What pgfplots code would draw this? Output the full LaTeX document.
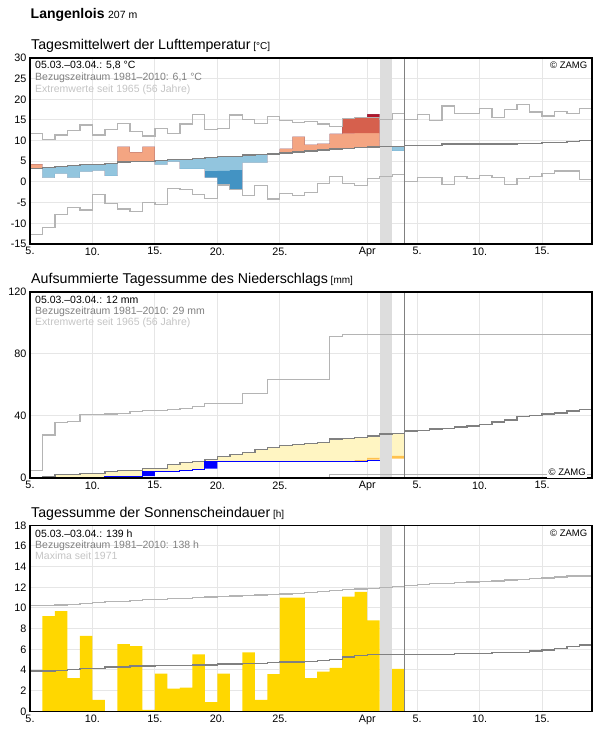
\documentclass[border=0pt]{standalone}
\usepackage{pgfplots}
\pgfplotsset{compat=1.18}
\usepackage{pgfplotstable}
\usepgfplotslibrary{fillbetween}
\usepackage{fontspec}
\setmainfont{Liberation Sans}

\definecolor{anoO}{HTML}{F4A582}
\definecolor{anoR}{HTML}{D6604D}
\definecolor{anoDR}{HTML}{B2182B}
\definecolor{anoLB}{HTML}{92C5DE}
\definecolor{anoMB}{HTML}{4393C3}
\definecolor{band}{HTML}{DDDDDD}
\definecolor{gridc}{HTML}{E6E6E6}
\definecolor{extr}{HTML}{B4B4B4}
\definecolor{clim}{HTML}{808080}
\definecolor{dry}{HTML}{FFF5C2}
\definecolor{wet}{HTML}{0000FF}
\definecolor{late}{HTML}{FFC24D}
\definecolor{sun}{HTML}{FFD700}
\definecolor{txtgray}{HTML}{808080}
\definecolor{txtlight}{HTML}{C4C4C4}

% ---------------- temperature: climatology and extremes (day 0 = 5 March)
\pgfplotstableread{
day mean tmax tmin
0 3.3 11.8 -12.7
1 3.55 10.3 -11.0
2 3.8 11.4 -7.9
3 4.0 12.5 -6.1
4 4.3 13.8 -6.8
5 4.3 11.4 -3.0
6 4.5 12.7 -5.2
7 4.85 14.2 -6.5
8 5.0 12.3 -7.2
9 5.0 11.1 -4.9
10 5.25 13.0 -5.4
11 5.5 11.8 -1.5
12 5.5 14.0 -1.9
13 5.65 16.4 -3.1
14 5.9 12.7 -3.95
15 6.1 13.0 -0.7
16 6.2 16.2 -1.9
17 6.5 15.2 -3.2
18 6.65 14.2 -0.9
19 6.8 15.9 -4.1
20 7.0 14.8 -2.7
21 7.3 14.4 -3.2
22 7.5 14.6 -2.5
23 7.7 14.0 -0.3
24 8.0 13.5 1.3
25 8.15 15.3 -0.3
26 8.3 15.6 -0.9
27 8.45 15.6 0.9
28 8.6 15.2 1.3
29 8.6 16.6 1.85
30 8.9 15.2 0.15
31 8.9 16.4 1.05
32 8.9 14.8 1.05
33 9.2 18.4 -0.55
34 9.2 16.6 1.4
35 9.2 16.6 0.9
36 9.2 17.8 1.6
37 9.2 15.6 1.1
38 9.2 17.6 -0.55
39 9.35 18.8 0.9
40 9.35 16.9 1.4
41 9.6 16.0 2.1
42 9.6 17.1 2.65
43 9.85 16.6 2.65
44 10.1 17.8 0.65
45 10.1 17.8 0.65
}\tclim

% observed daily means; obt/rbt = upper limits of the orange/red classes,
% lbb = lower limit of the light blue class (equal to val where the
% value stays inside the lighter class)
\pgfplotstableread{
day base val obt rbt lbb
0 3.3 4.35 4.35 4.35 4.35
1 3.55 1.05 1.05 1.05 1.05
2 3.8 2.0 2.0 2.0 2.0
3 4.0 1.05 1.05 1.05 1.05
4 4.3 2.5 2.5 2.5 2.5
5 4.3 2.75 2.75 2.75 2.75
6 4.5 1.5 1.5 1.5 1.5
7 4.85 8.5 8.5 8.5 8.5
8 5.0 7.25 7.25 7.25 7.25
9 5.0 8.5 8.5 8.5 8.5
10 5.25 4.2 4.2 4.2 4.2
11 5.5 4.95 4.95 4.95 4.95
12 5.5 3.15 3.15 3.15 3.15
13 5.65 3.15 3.15 3.15 3.15
14 5.9 1.05 1.05 1.05 2.65
15 6.1 -0.7 -0.7 -0.7 2.7
16 6.2 -1.9 -1.9 -1.9 2.9
17 6.5 4.7 4.7 4.7 4.7
18 6.65 4.7 4.7 4.7 4.7
19 6.8 6.8 6.8 6.8 6.8
20 7.0 8.0 8.0 8.0 8.0
21 7.3 10.9 10.9 10.9 10.9
22 7.5 9.0 9.0 9.0 9.0
23 7.7 9.2 9.2 9.2 9.2
24 8.0 11.65 11.5 11.65 11.65
25 8.15 15.3 11.7 15.3 15.3
26 8.3 15.6 11.85 15.6 15.6
27 8.45 16.45 11.85 15.7 16.45
28 8.6 8.6 8.6 8.6 8.6
29 8.6 7.5 7.5 7.5 7.5
30 8.6 7.5 7.5 7.5 7.5
}\tobs

% ---------------- precipitation (accumulated, mm)
\pgfplotstableread{
day mean pmax pmin
0 0.4 4.9 0
1 1.1 27.7 0
2 2.15 35.9 0
3 2.15 36.6 0
4 2.8 40.9 0
5 2.8 40.9 0
6 4.1 41.3 0
7 4.95 41.7 0
8 4.95 42.8 0
9 6.2 43.4 0
10 6.2 43.4 0
11 8.8 44.3 0
12 10.1 44.7 0
13 10.75 46.0 0
14 12.0 48.2 0
15 13.8 48.2 0
16 15.3 48.2 0.4
17 16.3 54.5 0.4
18 18.5 54.5 0.4
19 19.8 63.6 0.4
20 20.9 63.6 0.4
21 21.5 63.6 0.4
22 22.4 63.6 0.4
23 23.0 63.6 0.4
24 25.2 91.2 2.4
25 25.6 92.7 2.4
26 26.0 92.7 2.4
27 27.1 92.7 2.4
28 28.4 92.7 2.4
29 28.8 92.7 2.4
30 30.2 92.7 2.4
31 30.8 92.7 2.4
32 31.5 92.7 2.4
33 32.1 92.7 2.4
34 33.0 92.7 2.4
35 33.6 92.7 2.4
36 34.5 92.7 2.4
37 36.2 92.7 2.4
38 37.5 92.7 2.4
39 39.6 92.7 2.4
40 40.5 92.7 2.4
41 41.4 92.7 2.4
42 42.0 92.7 2.4
43 43.3 92.7 2.4
44 44.2 92.7 2.4
45 44.2 92.7 2.4
}\pclim

\pgfplotstableread{
day base act bxl ylo
0 0.4 0.0 0.0 0.0
1 1.1 0.4 0.4 0.4
2 2.15 0.4 0.4 0.4
3 2.15 0.4 0.4 0.4
4 2.8 0.4 0.4 0.4
5 2.8 0.4 0.4 0.4
6 4.1 1.1 1.1 1.1
7 4.95 1.1 1.1 1.1
8 4.95 1.1 1.1 1.1
9 6.2 4.4 1.2 4.4
10 6.2 4.4 4.4 4.4
11 8.8 4.4 4.4 4.4
12 10.1 4.9 4.9 4.9
13 10.75 5.5 5.5 5.5
14 12.0 10.4 6.0 10.4
15 13.8 10.6 10.6 10.6
16 15.3 10.6 10.6 10.6
17 16.3 10.6 10.6 10.6
18 18.5 10.6 10.6 10.6
19 19.8 10.6 10.6 10.6
20 20.9 10.6 10.6 10.6
21 21.5 10.6 10.6 10.6
22 22.4 10.6 10.6 10.6
23 23.0 10.6 10.6 10.6
24 25.2 10.6 10.6 10.6
25 25.6 10.6 10.6 10.6
26 26.0 10.6 10.6 11.6
27 27.1 11.3 11.3 13.0
28 28.4 11.3 11.3 13.0
29 28.8 11.3 11.3 14.2
30 30.2 11.3 11.3 14.2
}\pobs

\pgfplotstableread{
day lo hi
26 11.0 11.6
27 11.8 13.0
28 13.0 13.0
29 12.5 14.2
30 12.5 14.2
}\plate

% ---------------- sunshine duration (h)
\pgfplotstableread{
day mean smax
0 3.9 10.25
1 3.9 10.25
2 3.97 10.3
3 4.04 10.35
4 4.17 10.45
5 4.17 10.5
6 4.3 10.6
7 4.3 10.65
8 4.4 10.75
9 4.4 10.8
10 4.46 10.85
11 4.46 10.9
12 4.46 10.95
13 4.5 11.0
14 4.5 11.05
15 4.56 11.1
16 4.56 11.15
17 4.6 11.2
18 4.6 11.25
19 4.7 11.3
20 4.76 11.35
21 4.76 11.4
22 4.82 11.5
23 4.9 11.6
24 5.0 11.7
25 5.25 11.8
26 5.4 11.85
27 5.5 11.9
28 5.5 12.0
29 5.5 12.1
30 5.5 12.2
31 5.5 12.25
32 5.52 12.35
33 5.52 12.4
34 5.57 12.45
35 5.57 12.5
36 5.6 12.55
37 5.67 12.6
38 5.67 12.7
39 5.7 12.75
40 5.85 12.85
41 5.95 12.9
42 6.1 13.0
43 6.3 13.1
44 6.4 13.1
45 6.4 13.1
}\sclim

\pgfplotstableread{
day hours
0 0
1 9.2
2 9.7
3 3.2
4 7.3
5 1.1
6 0
7 6.5
8 6.3
9 0.13
10 3.65
11 2.2
12 2.3
13 5.5
14 0.9
15 3.65
16 0
17 5.7
18 1.1
19 3.6
20 11.0
21 11.0
22 3.2
23 3.85
24 4.2
25 11.1
26 11.55
27 8.8
28 0
29 4.1
30 4.1
}\sobs

\pgfplotsset{
  panel/.style={
    scale only axis, width=562pt, height=186pt,
    anchor=south west,
    xmin=0, xmax=45,
    xtick={0,5,10,15,20,27,31,36,41},
    xticklabels={5.,10.,15.,20.,25.,Apr,5.,10.,15.},
    major tick length=0pt,
    grid=major,
    major grid style={draw=gridc, line width=1pt},
    axis line style={line width=1.4pt},
    tick label style={font=\fontsize{10.8}{13}\selectfont},
    /pgf/number format/assume math mode=true,
  },
  extline/.style={const plot, color=extr, line width=1.3pt, mark=none},
  climline/.style={const plot, color=clim, line width=1.4pt, mark=none},
  hidden/.style={const plot, draw=none, mark=none},
}

\newcommand\ttl{\fontsize{14.2}{16}\selectfont}
\newcommand\unitsz{\fontsize{10}{12}\selectfont}
\newcommand\info{\fontsize{10.5}{12}\selectfont}
\newcommand\zamg{\fontsize{9.5}{11}\selectfont}

\begin{document}
\begin{tikzpicture}
\path (0pt,0pt) rectangle (596pt,729pt);

% ================= air temperature
\begin{axis}[panel, at={(30pt,485pt)},
  ymin=-15, ymax=30, ytick={-15,-10,...,30}]
  \addplot[hidden, name path=tb] table[x=day, y=base] {\tobs};
  \addplot[hidden, name path=oh] table[x=day,
     y expr={max(\thisrow{base},min(\thisrow{val},\thisrow{obt}))}] {\tobs};
  \addplot[hidden, name path=rl] table[x=day, y=obt] {\tobs};
  \addplot[hidden, name path=rh] table[x=day,
     y expr={max(\thisrow{obt},min(\thisrow{val},\thisrow{rbt}))}] {\tobs};
  \addplot[hidden, name path=dl] table[x=day, y=rbt] {\tobs};
  \addplot[hidden, name path=dh] table[x=day,
     y expr={max(\thisrow{rbt},\thisrow{val})}] {\tobs};
  \addplot[hidden, name path=bl] table[x=day,
     y expr={min(\thisrow{base},max(\thisrow{val},\thisrow{lbb}))}] {\tobs};
  \addplot[hidden, name path=mh] table[x=day, y=lbb] {\tobs};
  \addplot[hidden, name path=ml] table[x=day,
     y expr={min(\thisrow{lbb},\thisrow{val})}] {\tobs};

  \addplot[fill=anoO, draw=none] fill between[of=tb and oh];
  \addplot[fill=anoR, draw=none] fill between[of=rl and rh];
  \addplot[fill=anoDR, draw=none] fill between[of=dl and dh];
  \addplot[fill=anoLB, draw=none] fill between[of=bl and tb];
  \addplot[fill=anoMB, draw=none] fill between[of=ml and mh];

  \addplot[fill=band, draw=none] coordinates {(28,-15) (29,-15) (29,30) (28,30)} --cycle;
  \addplot[extline] table[x=day, y=tmax] {\tclim};
  \addplot[extline] table[x=day, y=tmin] {\tclim};
  \addplot[climline] table[x=day, y=mean] {\tclim};
  \addplot[color=clim, line width=1.2pt] coordinates {(30,-15) (30,30)};
\end{axis}
\draw[line width=1.4pt] (30pt,485pt) rectangle (592pt,671pt);

% ================= precipitation
\begin{axis}[panel, at={(30pt,251pt)},
  ymin=0, ymax=120, ytick={0,40,80,120}]
  \addplot[hidden, name path=pb] table[x=day, y=base] {\pobs};
  \addplot[hidden, name path=py] table[x=day, y=ylo] {\pobs};
  \addplot[fill=dry, draw=none] fill between[of=py and pb];
  \addplot[hidden, name path=ba, restrict x to domain=0:28] table[x=day, y=act] {\pobs};
  \addplot[hidden, name path=bx, restrict x to domain=0:28] table[x=day, y=bxl] {\pobs};
  \addplot[fill=wet, draw=none] fill between[of=bx and ba];
  \addplot[hidden, name path=ll] table[x=day, y=lo] {\plate};
  \addplot[hidden, name path=lh] table[x=day, y=hi] {\plate};
  \addplot[fill=late, draw=none] fill between[of=ll and lh];

  \addplot[fill=band, draw=none] coordinates {(28,0) (29,0) (29,120) (28,120)} --cycle;
  \addplot[extline] table[x=day, y=pmax] {\pclim};
  \addplot[extline] table[x=day, y=pmin] {\pclim};
  \addplot[climline] table[x=day, y=mean] {\pclim};
  \addplot[const plot, color=wet, line width=1.2pt, mark=none,
     restrict x to domain=0:28] table[x=day, y=act] {\pobs};
  \addplot[color=clim, line width=1.2pt] coordinates {(30,0) (30,120)};
\end{axis}
\draw[line width=1.4pt] (30pt,251pt) rectangle (592pt,437pt);

% ================= sunshine duration
\begin{axis}[panel, at={(30pt,17.7pt)},
  ymin=0, ymax=18, ytick={0,2,...,18}]
  \addplot[const plot, fill=sun, draw=none, mark=none] table[x=day, y=hours] {\sobs} \closedcycle;
  \addplot[fill=band, draw=none] coordinates {(28,0) (29,0) (29,18) (28,18)} --cycle;
  \addplot[extline] table[x=day, y=smax] {\sclim};
  \addplot[climline] table[x=day, y=mean] {\sclim};
  \addplot[color=clim, line width=1.2pt] coordinates {(30,0) (30,18)};
\end{axis}
\draw[line width=1.4pt] (30pt,17.7pt) rectangle (592pt,203.7pt);

% ================= titles and notes
\node[anchor=base west, inner sep=0pt] at (30.5pt,710.7pt)
  {{\bfseries\fontsize{14}{16}\selectfont Langenlois}\hspace{3.5pt}{\fontsize{10.5}{12}\selectfont 207 m}};

\node[anchor=base west, inner sep=0pt] at (31pt,679.7pt)
  {{\ttl Tagesmittelwert der Lufttemperatur} {\unitsz[°C]}};
\node[anchor=base west, inner sep=0pt, font=\info] at (35pt,660.7pt) {05.03.–03.04.: 5,8 °C};
\node[anchor=base west, inner sep=0pt, font=\info, text=txtgray] at (35pt,648.2pt) {Bezugszeitraum 1981–2010: 6,1 °C};
\node[anchor=base west, inner sep=0pt, font=\info, text=txtlight] at (35pt,636.2pt) {Extremwerte seit 1965 (56 Jahre)};
\node[anchor=base east, inner sep=0pt, font=\zamg] at (587.5pt,660.7pt) {© ZAMG};

\node[anchor=base west, inner sep=0pt] at (31pt,445.7pt)
  {{\ttl Aufsummierte Tagessumme des Niederschlags} {\unitsz[mm]}};
\node[anchor=base west, inner sep=0pt, font=\info] at (35pt,425pt) {05.03.–03.04.: 12 mm};
\node[anchor=base west, inner sep=0pt, font=\info, text=txtgray] at (35pt,414pt) {Bezugszeitraum 1981–2010: 29 mm};
\node[anchor=base west, inner sep=0pt, font=\info, text=txtlight] at (35pt,403pt) {Extremwerte seit 1965 (56 Jahre)};
\node[anchor=base east, fill=white, inner sep=1.5pt, font=\zamg] at (587.5pt,253pt) {© ZAMG};

\node[anchor=base west, inner sep=0pt] at (31pt,211.7pt)
  {{\ttl Tagessumme der Sonnenscheindauer} {\unitsz[h]}};
\node[anchor=base west, inner sep=0pt, font=\info] at (35pt,191.7pt) {05.03.–03.04.: 139 h};
\node[anchor=base west, inner sep=0pt, font=\info, text=txtgray] at (35pt,180.7pt) {Bezugszeitraum 1981–2010: 138 h};
\node[anchor=base west, inner sep=0pt, font=\info, text=txtlight] at (35pt,169.7pt) {Maxima seit 1971};
\node[anchor=base east, inner sep=0pt, font=\zamg] at (587.5pt,192.3pt) {© ZAMG};
\end{tikzpicture}
\end{document}
